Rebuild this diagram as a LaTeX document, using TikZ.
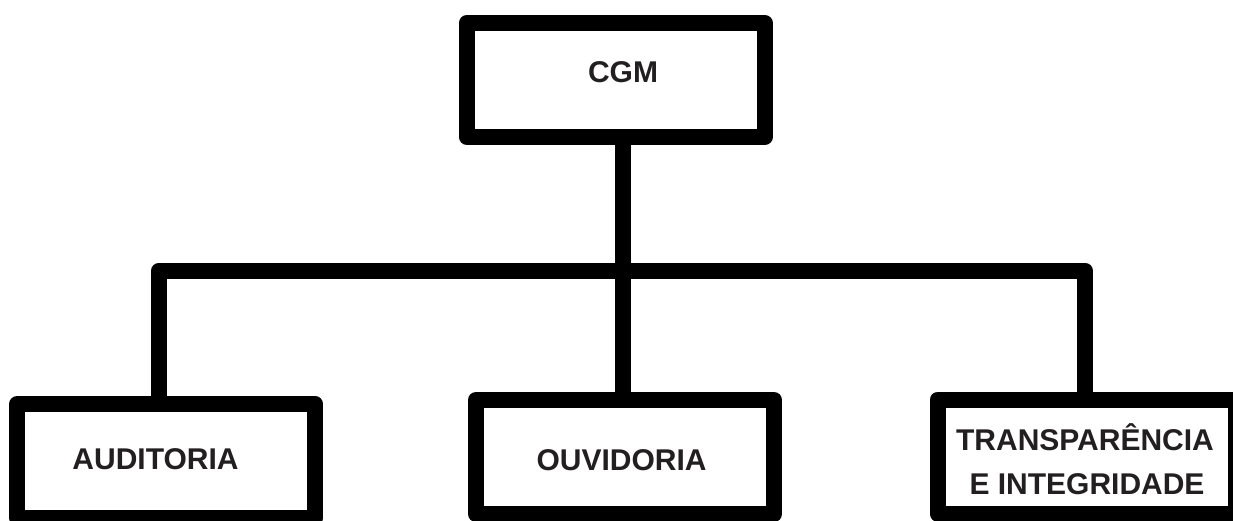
\documentclass[tikz,border=0pt]{standalone}
\usepackage{fontspec}
\setmainfont{Liberation Sans}
\definecolor{labelink}{RGB}{34,31,32}
\tikzset{
  orgbox/.style={draw=black, line width=16pt, line join=round, inner sep=0pt, outer sep=0pt,
                 minimum width=298pt, minimum height=114pt},
  wire/.style={draw=black, line width=16pt, line join=round},
  boxlabel/.style={text=labelink, inner sep=0pt, anchor=base,
                   font=\fontsize{30}{36}\selectfont\bfseries}
}
\begin{document}
\begin{tikzpicture}[x=1pt, y=-1pt]
  \useasboundingbox (0,0) rectangle (1233,521);
  \clip (0,0) rectangle (1233,521);

  % branch points of the connector tree
  \coordinate (hub)  at (622.5,270.5);
  \coordinate (barL) at (159,270.5);
  \coordinate (barR) at (1085,270.5);

  % boxes
  \node[orgbox] (cgm)   at (615.75,80) {};
  \node[orgbox] (aud)   at (166.25,461) {};
  \node[orgbox] (ouv)   at (625,457) {};
  \node[orgbox] (trans) at (1086.5,456.5) {};

  % connectors
  \draw[wire] (cgm.south -| hub) -- (ouv.north -| hub);
  \draw[wire] (aud.north -| barL) -- (barL) -- (barR) -- (trans.north -| barR);

  % labels
  \node[boxlabel] (cgmtext)   at (623,82.5)    {CGM};
  \node[boxlabel] (audtext)   at (155.5,469)   {AUDITORIA};
  \node[boxlabel] (ouvtext)   at (621.5,470)   {OUVIDORIA};
  \node[boxlabel] (transtext) at (1085,450)    {TRANSPARÊNCIA};
  \node[boxlabel] (integtext) at (1087,494)    {E INTEGRIDADE};
\end{tikzpicture}
\end{document}
